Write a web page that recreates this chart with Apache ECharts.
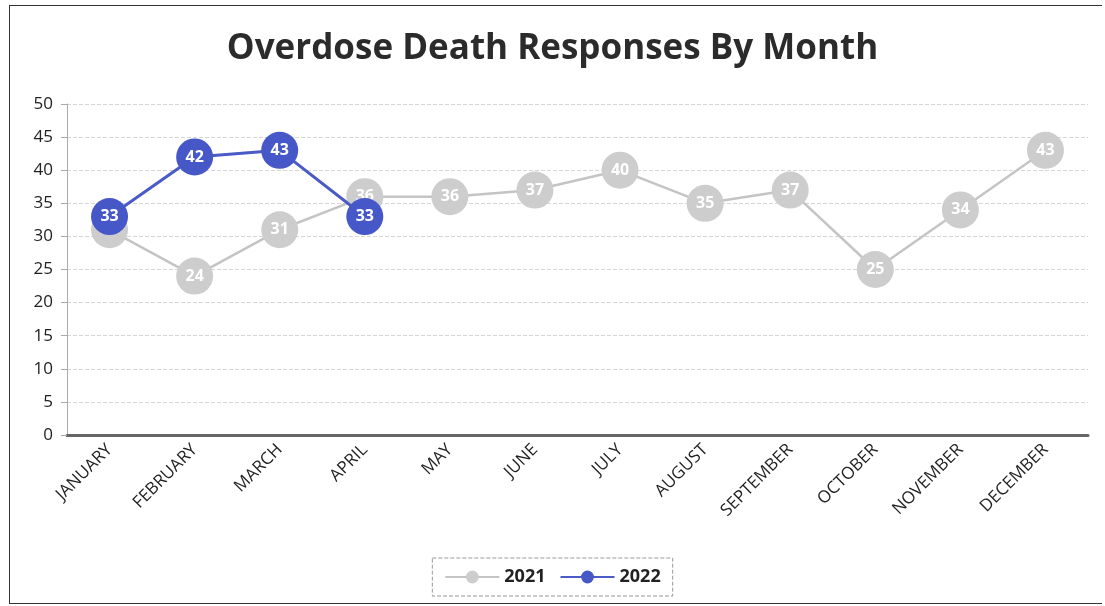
<!DOCTYPE html>
<html>
<head>
<meta charset="utf-8">
<script src="https://cdn.jsdelivr.net/npm/echarts@6/dist/echarts.min.js"></script>
<style>
html,body{margin:0;padding:0;background:#fff;}
#c{width:1105px;height:606px;}
#frame{position:absolute;left:9px;top:5px;width:1092px;height:597px;border:1.5px solid #333;border-right:none;pointer-events:none;}
</style>
</head>
<body>
<div id="c"></div>
<div id="frame"></div>
<script>
const categories = ['JANUARY','FEBRUARY','MARCH','APRIL','MAY','JUNE','JULY','AUGUST','SEPTEMBER','OCTOBER','NOVEMBER','DECEMBER'];
const values2021 = [31,24,31,36,36,37,40,35,37,25,34,43];
const values2022 = [33,42,43,33];
const yTicks = {min:0, max:50, interval:5};

const chart = echarts.init(document.getElementById('c'));
const font = '"Open Sans", "Liberation Sans", sans-serif';
chart.setOption({
  animation:false,
  title:{text:'Overdose Death Responses By Month', left:'center', top:27,
    textStyle:{fontFamily:font, fontSize:35, fontWeight:'bold', color:'#2b2b2b'}},
  legend:{bottom:10, left:'center', itemWidth:54, itemHeight:16, itemGap:14,
    borderColor:'#999', borderWidth:1, borderType:'dashed', padding:[10,12],
    textStyle:{fontFamily:font, fontSize:18, fontWeight:'bold', color:'#222'},
    data:['2021','2022']},
  grid:{left:67, right:17, top:104, bottom:171},
  xAxis:{type:'category', data:categories, boundaryGap:true,
    axisLine:{lineStyle:{color:'#666', width:3}},
    axisTick:{show:false},
    axisLabel:{rotate:45, interval:0, fontFamily:font, fontSize:17, color:'#222', margin:12}},
  yAxis:{type:'value', min:yTicks.min, max:yTicks.max, interval:yTicks.interval,
    axisLine:{show:true, lineStyle:{color:'#aaa', width:1}},
    axisTick:{show:true, length:6, lineStyle:{color:'#aaa'}},
    axisLabel:{fontFamily:font, fontSize:17, color:'#222', margin:14},
    splitLine:{lineStyle:{color:'#d6d6d6', type:'dashed', width:1}}},
  series:[
    {name:'2021', type:'line', data:values2021, symbol:'circle', symbolSize:37, z:2,
     lineStyle:{color:'#c4c4c4', width:2.5}, itemStyle:{color:'#cdcdcd'},
     label:{show:true, position:'inside', color:'#fff', fontFamily:font, fontSize:16, fontWeight:'bold'}},
    {name:'2022', type:'line', data:values2022, symbol:'circle', symbolSize:37, z:3,
     lineStyle:{color:'#4a5ac6', width:3}, itemStyle:{color:'#4658c8'},
     label:{show:true, position:'inside', color:'#fff', fontFamily:font, fontSize:16, fontWeight:'bold'}}
  ]
});
</script>
</body>
</html>
